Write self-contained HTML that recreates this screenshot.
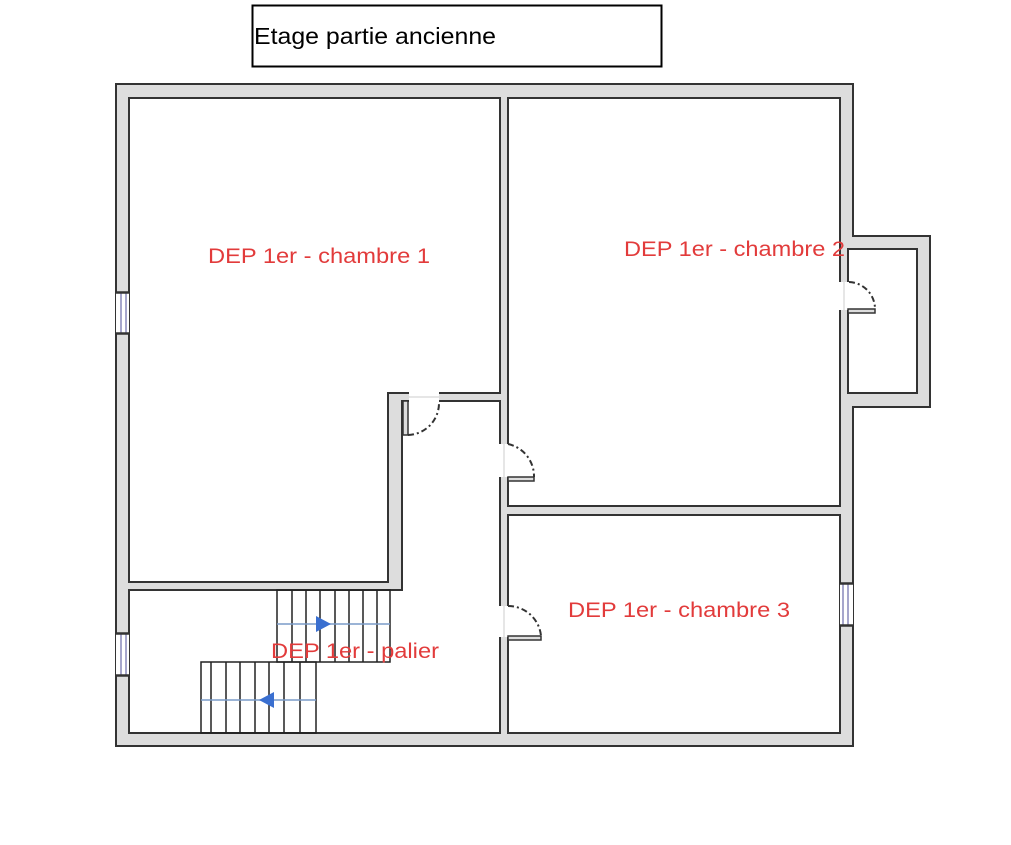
<!DOCTYPE html>
<html><head><style>
body{margin:0;background:#fff;width:1011px;height:845px;overflow:hidden}
svg{display:block}
.t{font-family:"Liberation Sans",sans-serif;font-size:21px;fill:#e23b3b}
</style></head><body>
<svg width="1011" height="845" viewBox="0 0 1011 845">
<rect x="252.5" y="5.5" width="409" height="61" fill="#fff" stroke="#000" stroke-width="2"/>
<text x="254" y="44" font-family="Liberation Sans, sans-serif" font-size="23" fill="#000" textLength="242" lengthAdjust="spacingAndGlyphs">Etage partie ancienne</text>
<g stroke="#333" stroke-width="2">
<rect x="116" y="84" width="737" height="662" fill="#ddd"/>
<rect x="853" y="236" width="77" height="171" fill="#ddd"/>
<line x1="853" y1="237" x2="853" y2="406" stroke="#ddd" stroke-width="3"/>
<rect x="848" y="249" width="69" height="144" fill="#fff"/>
<polygon points="129,98 500,98 500,393 388,393 388,582 129,582" fill="#fff"/>
<polygon points="129,590 402,590 402,401 500,401 500,733 129,733" fill="#fff"/>
<rect x="508" y="98" width="332" height="408" fill="#fff"/>
<rect x="508" y="515" width="332" height="218" fill="#fff"/>
</g>
<g fill="#fff">
<rect x="409" y="392" width="30" height="10"/>
<rect x="499" y="444" width="10" height="33"/>
<rect x="499" y="606" width="10" height="31"/>
<rect x="839" y="282" width="10" height="28"/>
<rect x="116" y="292" width="13" height="42"/>
<rect x="116" y="633" width="13" height="43"/>
<rect x="840" y="583" width="13" height="43"/>
</g>
<g stroke="#ccc" stroke-width="1">
<line x1="409" y1="397" x2="439" y2="397"/>
<line x1="504" y1="444" x2="504" y2="477"/>
<line x1="504" y1="606" x2="504" y2="637"/>
<line x1="844" y1="282" x2="844" y2="310"/>
</g>
<g stroke="#8888bb" stroke-width="1.5">
<line x1="121" y1="292" x2="121" y2="334"/><line x1="126" y1="292" x2="126" y2="334"/>
<line x1="121" y1="633" x2="121" y2="676"/><line x1="126" y1="633" x2="126" y2="676"/>
<line x1="843" y1="583" x2="843" y2="626"/><line x1="848" y1="583" x2="848" y2="626"/>
</g>
<g stroke="#333" stroke-width="1.5" fill="#ddd">
<rect x="116" y="292" width="13" height="1"/><rect x="116" y="333" width="13" height="1"/>
<rect x="116" y="633" width="13" height="1"/><rect x="116" y="675" width="13" height="1"/>
<rect x="840" y="583" width="13" height="1"/><rect x="840" y="625" width="13" height="1"/>
<rect x="403" y="401" width="5" height="34"/>
<rect x="508" y="477" width="26" height="4"/>
<rect x="508" y="636" width="33" height="4"/>
<rect x="848" y="309" width="27" height="4"/>
</g>
<g fill="none" stroke="#333" stroke-width="2" stroke-dasharray="6,3,2,3">
<path d="M408 435 A32 32 0 0 0 439 402"/>
<path d="M508 444 A33 33 0 0 1 534 477"/>
<path d="M508 606 A33 33 0 0 1 541 636"/>
<path d="M849 282 A27 27 0 0 1 875 309"/>
</g>
<g stroke="#222" stroke-width="1.5" fill="none">
<rect x="277" y="590" width="113" height="72"/>
<rect x="201" y="662" width="115" height="71"/>
<path d="M292 590V662M306 590V662M320 590V662M335 590V662M349 590V662M363 590V662M377 590V662"/>
<path d="M211 662V733M226 662V733M240 662V733M255 662V733M269 662V733M284 662V733M300 662V733"/>
</g>
<g stroke="#7a9cc8" stroke-width="1.5">
<line x1="277" y1="624" x2="390" y2="624"/>
<line x1="201" y1="700" x2="316" y2="700"/>
</g>
<polygon points="316,616 331,624 316,632" fill="#3a6fd0"/>
<polygon points="274,692 259,700 274,708" fill="#3a6fd0"/>
<text class="t" x="208" y="263" textLength="222" lengthAdjust="spacingAndGlyphs">DEP 1er - chambre 1</text>
<text class="t" x="624" y="256" textLength="221" lengthAdjust="spacingAndGlyphs">DEP 1er - chambre 2</text>
<text class="t" x="568" y="617" textLength="222" lengthAdjust="spacingAndGlyphs">DEP 1er - chambre 3</text>
<text class="t" x="271" y="658" textLength="168" lengthAdjust="spacingAndGlyphs">DEP 1er - palier</text>
</svg>
</body></html>
